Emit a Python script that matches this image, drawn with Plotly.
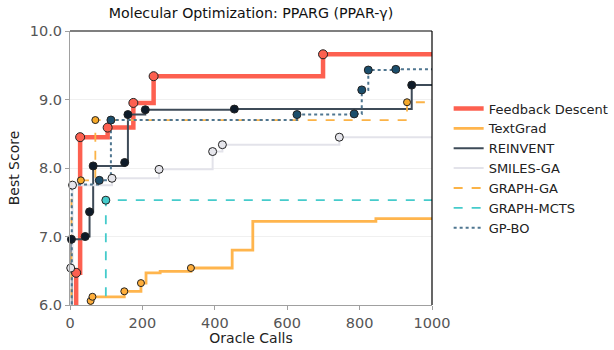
import plotly.graph_objects as go

ORACLE_BUDGET = 1000

fd_x = [0, 17, 28, 104, 175, 231, 699]
fd_y = [5.6, 6.47, 8.45, 8.59, 8.95, 9.34, 9.66]
fd_m = [0, 1, 1, 1, 1, 1, 1]

tg_x = [0, 57, 62, 150, 196, 210, 249, 334, 448, 505, 845]
tg_y = [5.6, 6.06, 6.12, 6.20, 6.32, 6.47, 6.49, 6.54, 6.80, 7.22, 7.26]
tg_m = [0, 1, 1, 1, 1, 0, 0, 1, 0, 0, 0]

rv_x = [0, 4, 42, 54, 64, 151, 160, 208, 454, 944]
rv_y = [5.6, 6.96, 7.00, 7.36, 8.03, 8.08, 8.78, 8.85, 8.86, 9.21]
rv_m = [0, 1, 1, 1, 1, 1, 1, 1, 1, 1]

sg_x = [0, 2, 7, 116, 246, 394, 421, 744]
sg_y = [5.6, 6.54, 7.75, 7.85, 7.98, 8.24, 8.34, 8.45]
sg_m = [0, 1, 1, 1, 1, 1, 1, 1]

gg_x = [0, 4, 30, 70, 931]
gg_y = [5.6, 7.80, 7.82, 8.70, 8.96]
gg_m = [0, 0, 1, 1, 1]

gm_x = [0, 99]
gm_y = [5.6, 7.53]
gm_m = [0, 1]

gp_x = [0, 5, 81, 113, 627, 785, 806, 824, 900]
gp_y = [5.6, 7.76, 7.82, 8.70, 8.78, 8.79, 9.14, 9.43, 9.44]
gp_m = [0, 0, 1, 1, 1, 1, 1, 1, 1]

series = [
    ("Feedback Descent", fd_x, fd_y, fd_m, "#fd6050", 4.5, "solid", "#fd6050", 9),
    ("TextGrad", tg_x, tg_y, tg_m, "#ffb54d", 2.8, "solid", "#ffae3b", 7),
    ("REINVENT", rv_x, rv_y, rv_m, "#3e4b58", 2.0, "solid", "#0e1b29", 8),
    ("SMILES-GA", sg_x, sg_y, sg_m, "#e3e3ea", 2.0, "solid", "#e6e6ec", 8),
    ("GRAPH-GA", gg_x, gg_y, gg_m, "#fbb347", 1.8, "dash", "#f6a92a", 7),
    ("GRAPH-MCTS", gm_x, gm_y, gm_m, "#45cbcb", 1.8, "dash", "#45cbcb", 8),
    ("GP-BO", gp_x, gp_y, gp_m, "#4f7690", 2.0, "dot", "#1b4e6c", 8),
]

fig = go.Figure()
for name, xs, ys, ms, col, w, dash, mcol, msize in series:
    lx = list(xs) + [ORACLE_BUDGET]
    ly = list(ys) + [ys[-1]]
    fig.add_trace(go.Scatter(
        x=lx, y=ly, mode="lines", name=name, line_shape="hv",
        line=dict(color=col, width=w, dash=dash), showlegend=True))
for name, xs, ys, ms, col, w, dash, mcol, msize in series:
    mx = [x for x, m in zip(xs, ms) if m]
    my = [y for y, m in zip(ys, ms) if m]
    fig.add_trace(go.Scatter(
        x=mx, y=my, mode="markers", showlegend=False, cliponaxis=False,
        marker=dict(color=mcol, size=msize, line=dict(color="#222222", width=1))))

fig.add_shape(type="line", xref="paper", yref="paper", x0=0, x1=1, y0=1, y1=1,
              line=dict(color="black", width=1.2))
fig.add_shape(type="line", xref="paper", yref="paper", x0=1, x1=1, y0=0, y1=1,
              line=dict(color="black", width=1.2))

fig.update_layout(
    width=614, height=350,
    margin=dict(l=70, r=182, t=31, b=45, autoexpand=False),
    paper_bgcolor="white", plot_bgcolor="white",
    font=dict(family="DejaVu Sans", color="#222222", size=13),
    title=dict(text="Molecular Optimization: PPARG (PPAR-γ)", x=251/614, xanchor="center",
               y=1 - 13/350, yanchor="middle", font=dict(size=14.2, color="#111111")),
    legend=dict(x=1.046, y=0.772, xanchor="left", yanchor="top",
                font=dict(size=13, color="#222222"), tracegroupgap=0,
                bgcolor="rgba(0,0,0,0)", itemwidth=30),
    xaxis=dict(range=[0, 1000], tickvals=[0, 200, 400, 600, 800, 1000],
               showgrid=False, zeroline=False, showline=True, linecolor="#a0a0a0",
               linewidth=1.2, ticks="outside", ticklen=4, tickcolor="#a0a0a0",
               tickfont=dict(size=14.5, color="#555555"), automargin=False,
               title=dict(text="Oracle Calls", font=dict(size=14, color="#222222"), standoff=3)),
    yaxis=dict(range=[6.0, 10.0], tickvals=[6, 7, 8, 9, 10],
               ticktext=["6.0", "7.0", "8.0", "9.0", "10.0"],
               showgrid=True, gridcolor="#f0f0f0", gridwidth=1,
               zeroline=False, showline=True, linecolor="#a0a0a0",
               linewidth=1.2, ticks="outside", ticklen=4, tickcolor="#a0a0a0",
               tickfont=dict(size=14.5, color="#555555"), automargin=False,
               title=dict(text="Best Score", font=dict(size=14, color="#222222"), standoff=6)),
)

fig.write_html("out.html", config={"displayModeBar": False},
               post_script="document.body.style.margin='0';")
